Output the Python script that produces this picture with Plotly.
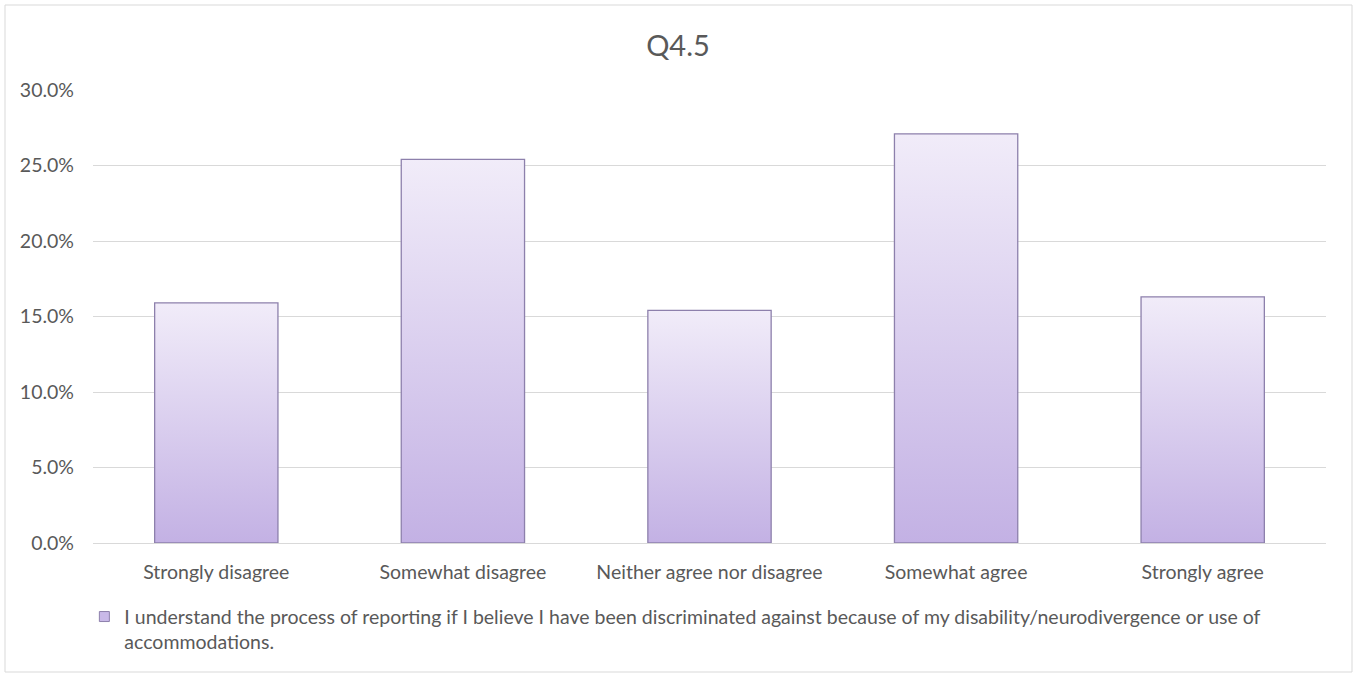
import plotly.graph_objects as go

# Survey responses for Q4.5 (share of respondents, %)
categories = [
    "Strongly disagree",
    "Somewhat disagree",
    "Neither agree nor disagree",
    "Somewhat agree",
    "Strongly agree",
]
shares = [15.9, 25.4, 15.4, 27.1, 16.3]
y_ticks = [0, 5, 10, 15, 20, 25, 30]
y_tick_labels = [f"{v:.1f}%" for v in y_ticks]
series_name = ("I understand the process of reporting if I believe I have been discriminated against "
               "because of my disability/neurodivergence or use of<br>accommodations.")
chart_title = "Q4.5"

FONT = "Lato"
TEXT = "#595959"
GRID = "#D9D9D9"
EDGE = "#8D80AC"
BAR_WIDTH = 0.5
GRADIENT = [[0, "#C3B1E4"], [1, "#F1ECF9"]]

fig = go.Figure()

# Each column is a filled outline on the category axis with a vertical gradient
for i, (cat, val) in enumerate(zip(categories, shares)):
    half = BAR_WIDTH / 2
    fig.add_trace(go.Scatter(
        x=[i - half, i - half, i + half, i + half, i - half],
        y=[0, val, val, 0, 0],
        mode="lines",
        fill="toself",
        fillgradient=dict(type="vertical", colorscale=GRADIENT),
        line=dict(color=EDGE, width=1.3),
        name=cat,
        showlegend=False,
        hovertemplate=f"{cat}: {val:.1f}%<extra></extra>",
    ))

# Legend key for the series
fig.add_trace(go.Scatter(
    x=[None], y=[None],
    mode="markers",
    marker=dict(symbol="square", size=10, color="#C9B9E8", line=dict(color=EDGE, width=1)),
    name=series_name,
    showlegend=True,
))

fig.update_layout(
    width=1356,
    height=674,
    margin=dict(l=93, r=30, t=90, b=131),
    paper_bgcolor="white",
    plot_bgcolor="white",
    font=dict(family=FONT, color=TEXT, size=19.5),
    title=dict(text=chart_title, x=0.5, xanchor="center", y=1 - 46 / 674, yanchor="middle",
               font=dict(family=FONT, size=29, color=TEXT)),
    showlegend=True,
    legend=dict(
        orientation="h",
        x=-0.007, xanchor="left",
        y=-0.12, yanchor="top",
        valign="top",
        font=dict(family=FONT, size=19.5, color=TEXT),
        bgcolor="rgba(0,0,0,0)",
    ),
    xaxis=dict(
        range=[-0.5, 4.5],
        tickmode="array",
        tickvals=list(range(len(categories))),
        ticktext=categories,
        showgrid=False,
        zeroline=False,
        showline=True,
        linecolor=GRID,
        linewidth=1,
        ticks="",
        ticklabelstandoff=12,
        fixedrange=True,
    ),
    yaxis=dict(
        range=[0, 30],
        tickmode="array",
        tickvals=y_ticks,
        ticktext=y_tick_labels,
        showgrid=True,
        gridcolor=GRID,
        gridwidth=1,
        zeroline=False,
        showline=False,
        ticks="",
        ticklabelstandoff=18,
        fixedrange=True,
    ),
    shapes=[
        # Outer chart frame
        dict(type="rect", xref="paper", yref="paper",
             x0=(5 - 93) / 1233, x1=(1352 - 93) / 1233,
             y0=(543 - 672) / 453, y1=(543 - 5) / 453,
             line=dict(color=GRID, width=1), fillcolor="rgba(0,0,0,0)", layer="below"),
    ],
)

fig.write_html("out.html")
